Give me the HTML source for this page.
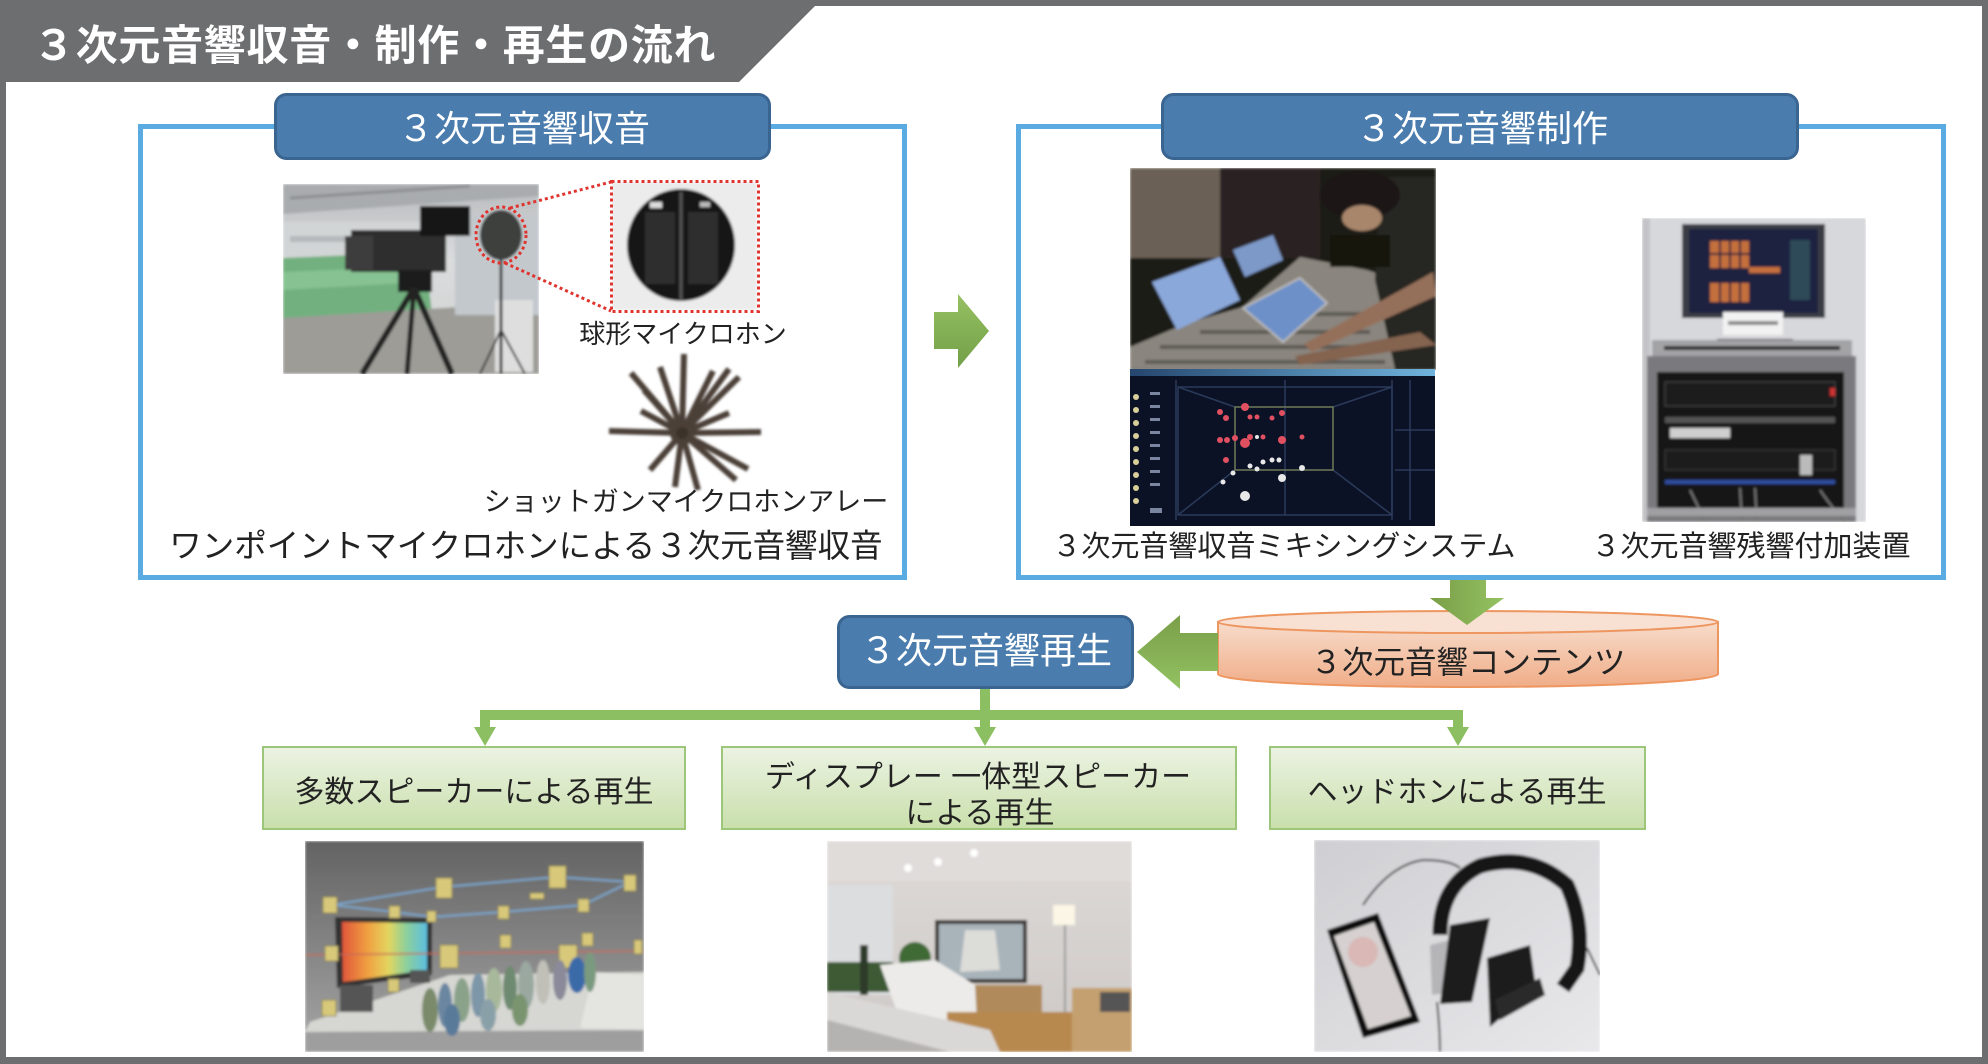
<!DOCTYPE html>
<html><head><meta charset="utf-8">
<style>
html,body{margin:0;padding:0;background:#fff;}
svg{display:block;}
text{font-family:"Liberation Sans","Noto Sans CJK JP",sans-serif;}
</style></head><body>
<svg width="1988" height="1064" viewBox="0 0 1988 1064" xmlns="http://www.w3.org/2000/svg">
<defs>
  <linearGradient id="gArrR" x1="0" y1="0" x2="0" y2="1"><stop offset="0" stop-color="#96c062"/><stop offset="1" stop-color="#72a048"/></linearGradient>
  <linearGradient id="gArrL" x1="0" y1="0" x2="0" y2="1"><stop offset="0" stop-color="#7a9e48"/><stop offset="1" stop-color="#92c262"/></linearGradient>
  <linearGradient id="gArrD" x1="0" y1="0" x2="1" y2="0"><stop offset="0" stop-color="#7a9e48"/><stop offset="1" stop-color="#94c262"/></linearGradient>
  <linearGradient id="gCyl" x1="0" y1="0" x2="0" y2="1"><stop offset="0" stop-color="#f7dccb"/><stop offset="1" stop-color="#f0ad88"/></linearGradient>
  <linearGradient id="gGreen" x1="0" y1="0" x2="0" y2="1"><stop offset="0" stop-color="#ecf3e3"/><stop offset="1" stop-color="#c9dfab"/></linearGradient>
  <linearGradient id="gScreen" x1="0" y1="0" x2="1" y2="0"><stop offset="0" stop-color="#e0553a"/><stop offset="0.3" stop-color="#f0a040"/><stop offset="0.55" stop-color="#e2d660"/><stop offset="0.75" stop-color="#8fd09a"/><stop offset="1" stop-color="#5bbfe0"/></linearGradient>
  <linearGradient id="gRoomA" x1="0" y1="0" x2="0" y2="1"><stop offset="0" stop-color="#636363"/><stop offset="1" stop-color="#a6a6a6"/></linearGradient>
  <linearGradient id="gHead" x1="0" y1="0" x2="1" y2="1"><stop offset="0" stop-color="#cfcfd3"/><stop offset="1" stop-color="#e8e8ea"/></linearGradient>
  <linearGradient id="gRoomB" x1="0" y1="0" x2="0" y2="1"><stop offset="0" stop-color="#dedad8"/><stop offset="1" stop-color="#cdc8c5"/></linearGradient>
  <linearGradient id="gCam" x1="0" y1="0" x2="0" y2="1"><stop offset="0" stop-color="#b8bbbd"/><stop offset="0.4" stop-color="#dadcdd"/><stop offset="1" stop-color="#cfd0cf"/></linearGradient>
  <linearGradient id="gBar" x1="0" y1="0" x2="1" y2="0"><stop offset="0" stop-color="#25466e"/><stop offset="1" stop-color="#6fb3dc"/></linearGradient>
  <clipPath id="c1"><rect x="283" y="184" width="256" height="190"/></clipPath>
  <clipPath id="c2"><rect x="612" y="182" width="145" height="128"/></clipPath>
  <clipPath id="c3"><rect x="1130" y="168" width="306" height="202"/></clipPath>
  <clipPath id="c4"><rect x="1130" y="369" width="305" height="157"/></clipPath>
  <clipPath id="c5"><rect x="1642" y="218" width="224" height="304"/></clipPath>
  <clipPath id="c6"><rect x="305" y="841" width="339" height="211"/></clipPath>
  <clipPath id="c7"><rect x="827" y="841" width="305" height="211"/></clipPath>
  <clipPath id="c8"><rect x="1314" y="840" width="286" height="212"/></clipPath>
  <filter id="blur" x="-5%" y="-5%" width="110%" height="110%"><feGaussianBlur stdDeviation="1.2"/></filter>
</defs>

<!-- frame -->
<rect width="1988" height="1064" fill="#6d6e70"/>
<rect x="6" y="6" width="1976" height="1051" fill="#fff"/>
<polygon points="0,0 821,0 739,82 0,82" fill="#6d6e70"/>
<text x="33" y="60" font-size="42" font-weight="bold" fill="#fff" letter-spacing="0.7">３次元音響収音・制作・再生の流れ</text>

<!-- Box 1 -->
<rect x="140.5" y="126.5" width="764" height="451" fill="none" stroke="#5aabe2" stroke-width="5"/>
<rect x="275.5" y="94.5" width="494" height="64" rx="11" fill="#4a7cae" stroke="#3a6591" stroke-width="3"/>
<text x="524" y="141" font-size="36" fill="#fff" text-anchor="middle">３次元音響収音</text>

<!-- camera photo -->
<g clip-path="url(#c1)" filter="url(#blur)">
  <rect x="283" y="184" width="256" height="190" fill="url(#gCam)"/>
  <polygon points="283,184 539,184 539,196 283,214" fill="#a9acae"/>
  <line x1="290" y1="198" x2="470" y2="186" stroke="#8c8f91" stroke-width="3"/>
  <rect x="283" y="222" width="160" height="36" fill="#d2d5d6"/>
  <rect x="290" y="236" width="120" height="6" fill="#b5b9bb"/>
  <polygon points="283,258 425,252 432,314 283,324" fill="#72b07f"/>
  <polygon points="283,272 425,266 426,282 283,290" fill="#86c292"/>
  <polygon points="283,318 539,302 539,374 283,374" fill="#9d9c97"/>
  <rect x="455" y="215" width="84" height="100" fill="#c2c8cc"/>
  <rect x="495" y="300" width="38" height="72" fill="#dedede"/>
  <rect x="351" y="230" width="95" height="42" fill="#2d2d2d"/>
  <rect x="345" y="236" width="28" height="34" fill="#3c3c3c"/>
  <rect x="420" y="206" width="50" height="30" fill="#191919"/>
  <rect x="398" y="270" width="34" height="22" fill="#1e1e1e"/>
  <line x1="414" y1="288" x2="362" y2="374" stroke="#222" stroke-width="6"/>
  <line x1="414" y1="288" x2="452" y2="374" stroke="#222" stroke-width="6"/>
  <line x1="414" y1="288" x2="407" y2="374" stroke="#222" stroke-width="5"/>
  <line x1="501" y1="258" x2="501" y2="374" stroke="#333" stroke-width="3"/>
  <line x1="501" y1="330" x2="480" y2="374" stroke="#333" stroke-width="2"/>
  <line x1="501" y1="330" x2="525" y2="374" stroke="#333" stroke-width="2"/>
  <ellipse cx="501" cy="235" rx="21" ry="25" fill="#3d403c"/>
</g>
<ellipse cx="501" cy="235" rx="25" ry="28" fill="none" stroke="#e0342f" stroke-width="3" stroke-dasharray="3,3"/>
<line x1="510" y1="208" x2="611" y2="182" stroke="#e0342f" stroke-width="3" stroke-dasharray="3,3"/>
<line x1="505" y1="263" x2="611" y2="311" stroke="#e0342f" stroke-width="3" stroke-dasharray="3,3"/>

<!-- sphere mic box -->
<g clip-path="url(#c2)" filter="url(#blur)">
  <rect x="612" y="182" width="145" height="128" fill="#ececec"/>
  <ellipse cx="681" cy="245" rx="54" ry="56" fill="#151515"/>
  <rect x="645" y="212" width="30" height="72" fill="#2e2e2e"/>
  <rect x="688" y="212" width="30" height="72" fill="#2e2e2e"/>
  <line x1="681" y1="192" x2="681" y2="300" stroke="#555" stroke-width="3"/>
  <rect x="650" y="202" width="12" height="6" fill="#ddd"/>
  <rect x="700" y="202" width="10" height="5" fill="#bbb"/>
</g>
<rect x="611.5" y="181.5" width="147" height="130" fill="none" stroke="#e0342f" stroke-width="3" stroke-dasharray="3,3"/>
<text x="683" y="343" font-size="26" fill="#222" text-anchor="middle">球形マイクロホン</text>

<!-- shotgun array -->
<g stroke="#4b3f39" stroke-width="6" filter="url(#blur)">
  <line x1="682" y1="433" x2="684" y2="354"/>
  <line x1="682" y1="433" x2="631" y2="373"/>
  <line x1="682" y1="433" x2="660" y2="367"/>
  <line x1="682" y1="433" x2="729" y2="369"/>
  <line x1="682" y1="433" x2="739" y2="377"/>
  <line x1="682" y1="433" x2="713" y2="371"/>
  <line x1="682" y1="433" x2="609" y2="431"/>
  <line x1="682" y1="433" x2="761" y2="432"/>
  <line x1="682" y1="433" x2="641" y2="411"/>
  <line x1="682" y1="433" x2="729" y2="413"/>
  <line x1="682" y1="433" x2="675" y2="487"/>
  <line x1="682" y1="433" x2="736" y2="480"/>
  <line x1="682" y1="433" x2="748" y2="469"/>
  <line x1="682" y1="433" x2="698" y2="490"/>
  <line x1="682" y1="433" x2="644" y2="390"/>
  <line x1="682" y1="433" x2="650" y2="470"/>
  <circle cx="682" cy="433" r="9" fill="#3a302b"/>
</g>
<text x="686" y="511" font-size="27" fill="#222" text-anchor="middle">ショットガンマイクロホンアレー</text>
<text x="526" y="557" font-size="32.5" fill="#222" text-anchor="middle">ワンポイントマイクロホンによる３次元音響収音</text>

<!-- right arrow -->
<polygon points="934,312 958,312 958,294 989,331 958,368 958,349 934,349" fill="url(#gArrR)"/>

<!-- Box 2 -->
<rect x="1018.5" y="126.5" width="925" height="451" fill="none" stroke="#5aabe2" stroke-width="5"/>
<rect x="1162.5" y="94.5" width="635" height="64" rx="11" fill="#4a7cae" stroke="#3a6591" stroke-width="3"/>
<text x="1482" y="141" font-size="36" fill="#fff" text-anchor="middle">３次元音響制作</text>

<!-- mixing photo top -->
<g clip-path="url(#c3)" filter="url(#blur)">
  <rect x="1130" y="168" width="306" height="202" fill="#1f1b18"/>
  <rect x="1130" y="168" width="90" height="90" fill="#6a6155"/>
  <rect x="1220" y="168" width="100" height="90" fill="#2b2420"/>
  <polygon points="1130,347 1187,323 1243,307 1300,257 1367,270 1397,280 1397,369 1130,369" fill="#8a857e"/>
  <g fill="#5e5a55">
    <rect x="1160" y="345" width="200" height="4"/><rect x="1200" y="330" width="170" height="4"/><rect x="1250" y="312" width="130" height="4"/><rect x="1145" y="360" width="240" height="4"/>
  </g>
  <polygon points="1152,282 1220,257 1240,300 1177,330" fill="#8ba8da"/>
  <polygon points="1233,250 1273,235 1283,260 1245,277" fill="#7d99c8"/>
  <polygon points="1243,308 1300,278 1327,303 1283,342" fill="#6d90c8" stroke="#bbb" stroke-width="2"/>
  <polygon points="1380,177 1436,177 1436,369 1395,369 1375,280" fill="#262520"/>
  <ellipse cx="1360" cy="195" rx="40" ry="24" fill="#1a1614"/>
  <ellipse cx="1362" cy="218" rx="20" ry="13" fill="#a8866c"/>
  <polygon points="1433,272 1436,296 1312,352 1304,344" fill="#94705a"/>
  <polygon points="1420,332 1436,345 1300,365 1295,356" fill="#84644f"/>
  <rect x="1330" y="235" width="60" height="32" fill="#141210"/>
</g>
<!-- mixing screenshot -->
<g clip-path="url(#c4)">
  <rect x="1130" y="369" width="305" height="157" fill="#0c1226"/>
  <rect x="1130" y="369" width="305" height="7" fill="url(#gBar)"/>
  <g stroke="#2a3a5a" stroke-width="1.5" fill="none">
    <line x1="1176" y1="380" x2="1176" y2="520"/><line x1="1392" y1="380" x2="1392" y2="520"/><line x1="1285" y1="380" x2="1285" y2="515"/>
    <rect x="1178" y="387" width="214" height="128"/>
    <line x1="1178" y1="387" x2="1235" y2="407"/><line x1="1392" y1="387" x2="1333" y2="407"/>
    <line x1="1178" y1="515" x2="1235" y2="470"/><line x1="1392" y1="515" x2="1333" y2="470"/>
    <line x1="1410" y1="380" x2="1410" y2="520"/><line x1="1395" y1="430" x2="1435" y2="430"/><line x1="1395" y1="470" x2="1435" y2="470"/>
  </g>
  <rect x="1235" y="407" width="98" height="63" fill="none" stroke="#6e7a56" stroke-width="1.5"/>
  <g fill="#d8cf9a"><circle cx="1136" cy="397" r="3"/><circle cx="1136" cy="410" r="3"/><circle cx="1136" cy="423" r="3"/><circle cx="1136" cy="436" r="3"/><circle cx="1136" cy="449" r="3"/><circle cx="1136" cy="462" r="3"/><circle cx="1136" cy="475" r="3"/><circle cx="1136" cy="488" r="3"/><circle cx="1136" cy="501" r="3"/></g>
  <g fill="#7a86a0"><rect x="1150" y="392" width="10" height="3"/><rect x="1150" y="405" width="10" height="3"/><rect x="1150" y="418" width="10" height="3"/><rect x="1150" y="431" width="10" height="3"/><rect x="1150" y="444" width="10" height="3"/><rect x="1150" y="457" width="10" height="3"/><rect x="1150" y="470" width="10" height="3"/><rect x="1150" y="483" width="10" height="3"/><rect x="1150" y="508" width="12" height="5"/></g>
  <g fill="#e05060"><circle cx="1245" cy="407" r="4"/><circle cx="1220" cy="412" r="3"/><circle cx="1226" cy="418" r="3"/><circle cx="1250" cy="417" r="2.5"/><circle cx="1257" cy="417" r="2.5"/><circle cx="1272" cy="418" r="2.5"/><circle cx="1282" cy="413" r="3"/><circle cx="1220" cy="440" r="3"/><circle cx="1227" cy="440" r="3"/><circle cx="1235" cy="438" r="3"/><circle cx="1245" cy="443" r="5"/><circle cx="1250" cy="437" r="3"/><circle cx="1263" cy="437" r="2.5"/><circle cx="1282" cy="440" r="4"/><circle cx="1302" cy="437" r="2.5"/><circle cx="1226" cy="460" r="3"/></g>
  <g fill="#e8e8e8"><circle cx="1257" cy="437" r="2"/><circle cx="1263" cy="462" r="2.5"/><circle cx="1272" cy="460" r="2.5"/><circle cx="1279" cy="460" r="2.5"/><circle cx="1250" cy="466" r="2.5"/><circle cx="1257" cy="469" r="2.5"/><circle cx="1302" cy="468" r="3"/><circle cx="1282" cy="478" r="4"/><circle cx="1233" cy="473" r="2.5"/><circle cx="1223" cy="482" r="2.5"/><circle cx="1245" cy="496" r="5"/></g>
</g>

<!-- reverb device photo -->
<g clip-path="url(#c5)" filter="url(#blur)">
  <rect x="1642" y="218" width="224" height="304" fill="#d7d8dc"/>
  <rect x="1642" y="218" width="8" height="304" fill="#c4c4c8"/>
  <rect x="1682" y="224" width="143" height="94" fill="#3a3d44"/>
  <rect x="1689" y="229" width="129" height="84" fill="#1a2340"/>
  <g fill="#c4703c"><rect x="1710" y="241" width="39" height="27"/><rect x="1710" y="283" width="39" height="19"/><rect x="1749" y="267" width="31" height="6"/></g>
  <g fill="#1a2340"><rect x="1719" y="241" width="2" height="27"/><rect x="1729" y="241" width="2" height="27"/><rect x="1739" y="241" width="2" height="27"/><rect x="1710" y="253" width="39" height="2"/><rect x="1719" y="283" width="2" height="19"/><rect x="1729" y="283" width="2" height="19"/><rect x="1739" y="283" width="2" height="19"/></g>
  <rect x="1790" y="240" width="20" height="60" fill="#2f4a58"/>
  <rect x="1723" y="312" width="60" height="23" fill="#f2f2f2"/>
  <rect x="1728" y="321" width="50" height="4" fill="#888"/>
  <rect x="1717" y="339" width="76" height="7" fill="#222"/>
  <rect x="1652" y="340" width="200" height="18" fill="#a3a3a6"/>
  <rect x="1664" y="346" width="176" height="4" fill="#2a2a2a"/>
  <rect x="1647" y="356" width="209" height="166" fill="#7a7a7e"/>
  <rect x="1657" y="372" width="187" height="138" fill="#131313"/>
  <rect x="1665" y="382" width="170" height="24" fill="#1f1f1f" stroke="#444"/>
  <rect x="1830" y="388" width="5" height="8" fill="#d03030"/>
  <rect x="1665" y="417" width="170" height="6" fill="#555"/>
  <rect x="1670" y="428" width="60" height="10" fill="#cfcfcf"/>
  <rect x="1665" y="450" width="170" height="20" fill="#1c1c1c" stroke="#3a3a3a"/>
  <rect x="1800" y="455" width="12" height="20" fill="#bbb"/>
  <rect x="1665" y="480" width="170" height="4" fill="#3050a0"/>
  <path d="M1690 490 Q1700 510 1705 522 M1740 488 L1742 522 M1755 488 L1757 522 M1820 490 Q1830 505 1845 522" stroke="#777" stroke-width="2" fill="none"/>
  <rect x="1647" y="508" width="209" height="8" fill="#a0a0a3"/>
</g>

<text x="1284" y="556" font-size="29" fill="#222" text-anchor="middle">３次元音響収音ミキシングシステム</text>
<text x="1751" y="556" font-size="29" fill="#222" text-anchor="middle">３次元音響残響付加装置</text>

<!-- down arrow -->
<polygon points="1450,580 1486,580 1486,598 1504,598 1467,625 1430,598 1450,598" fill="url(#gArrD)"/>

<!-- cylinder -->
<path d="M1218 622 L1218 674 A250 13 0 0 0 1718 674 L1718 622 Z" fill="url(#gCyl)" stroke="#ee9660" stroke-width="2"/>
<ellipse cx="1468" cy="622" rx="250" ry="11" fill="#f8e0d2" stroke="#ee9660" stroke-width="2"/>
<polygon points="1450,598 1486,598 1486,598 1504,598 1467,625 1430,598" fill="url(#gArrD)"/>
<text x="1468" y="673" font-size="31.5" fill="#222" text-anchor="middle">３次元音響コンテンツ</text>

<!-- left arrow -->
<polygon points="1218,633 1180,633 1180,615 1137,652 1180,689 1180,671 1218,671" fill="url(#gArrL)"/>

<!-- Tab 3 -->
<rect x="838.5" y="616.5" width="294" height="71" rx="11" fill="#4a7cae" stroke="#3a6591" stroke-width="3"/>
<text x="986" y="663" font-size="36" fill="#fff" text-anchor="middle">３次元音響再生</text>

<!-- connectors -->
<g fill="#8bbf62">
  <rect x="980" y="689" width="10" height="22"/>
  <rect x="480" y="710" width="983" height="10"/>
  <rect x="480" y="718" width="10" height="10"/>
  <rect x="980" y="718" width="10" height="10"/>
  <rect x="1453" y="718" width="10" height="10"/>
  <polygon points="474,727 496,727 485,746"/>
  <polygon points="974,727 996,727 985,746"/>
  <polygon points="1447,727 1469,727 1458,746"/>
</g>

<!-- green boxes -->
<rect x="263" y="747" width="422" height="82" fill="url(#gGreen)" stroke="#9cc67a" stroke-width="2"/>
<rect x="722" y="747" width="514" height="82" fill="url(#gGreen)" stroke="#9cc67a" stroke-width="2"/>
<rect x="1270" y="747" width="375" height="82" fill="url(#gGreen)" stroke="#9cc67a" stroke-width="2"/>
<text x="474" y="802" font-size="30" fill="#222" text-anchor="middle">多数スピーカーによる再生</text>
<text x="978" y="787" font-size="30" fill="#222" text-anchor="middle">ディスプレー 一体型スピーカー</text>
<text x="980" y="823" font-size="30" fill="#222" text-anchor="middle">による再生</text>
<text x="1457" y="802" font-size="30" fill="#222" text-anchor="middle">ヘッドホンによる再生</text>

<!-- photo A: multi speaker room -->
<g clip-path="url(#c6)" filter="url(#blur)">
  <rect x="305" y="841" width="339" height="211" fill="url(#gRoomA)"/>
  <polygon points="310,1022 450,975 644,972 644,1030 305,1032" fill="#d6d6d2"/>
  <polygon points="593,972 643,975 643,1030 580,1028" fill="#e4e4e0"/>
  <rect x="305" y="1032" width="339" height="20" fill="#9e9e9e"/>
  <polygon points="335,917 432,918 432,975 337,988" fill="#333"/>
  <polygon points="342,922 427,923 427,970 343,982" fill="url(#gScreen)"/>
  <line x1="305" y1="955" x2="644" y2="951" stroke="#c86a58" stroke-width="2" opacity="0.7"/>
  <polyline points="332,905 443,887 557,877 630,882 583,905 503,912 432,917 395,912 332,905" fill="none" stroke="#7aa6cc" stroke-width="2"/>
  <g fill="#d8c97a" stroke="#8e8556" stroke-width="1">
    <rect x="323" y="897" width="14" height="16"/><rect x="436" y="878" width="16" height="20"/><rect x="549" y="866" width="17" height="22"/><rect x="624" y="875" width="12" height="16"/>
    <rect x="389" y="906" width="11" height="12"/><rect x="427" y="911" width="9" height="11"/><rect x="498" y="906" width="11" height="13"/><rect x="578" y="899" width="11" height="13"/>
    <rect x="325" y="946" width="13" height="15"/><rect x="440" y="945" width="18" height="23"/><rect x="500" y="935" width="11" height="13"/><rect x="582" y="933" width="11" height="13"/>
    <rect x="559" y="945" width="18" height="23"/><rect x="634" y="940" width="8" height="14"/><rect x="322" y="1000" width="14" height="16"/><rect x="388" y="979" width="11" height="13"/><rect x="530" y="893" width="14" height="6"/>
  </g>
  <rect x="340" y="985" width="33" height="27" fill="#555"/>
  <rect x="410" y="970" width="20" height="13" fill="#555"/>
  <g>
    <ellipse cx="430" cy="1010" rx="8" ry="22" fill="#7a8a6a"/><ellipse cx="445" cy="1005" rx="7" ry="22" fill="#6a86a0"/>
    <ellipse cx="462" cy="1000" rx="8" ry="22" fill="#8aa28a"/><ellipse cx="478" cy="995" rx="7" ry="22" fill="#7d96a8"/>
    <ellipse cx="494" cy="990" rx="8" ry="22" fill="#a8b89a"/><ellipse cx="510" cy="988" rx="7" ry="22" fill="#6e8a70"/>
    <ellipse cx="526" cy="985" rx="8" ry="24" fill="#9aa8a0"/><ellipse cx="543" cy="982" rx="7" ry="22" fill="#c0c0b8"/>
    <ellipse cx="560" cy="980" rx="7" ry="20" fill="#8a8a9a"/><ellipse cx="577" cy="975" rx="9" ry="18" fill="#3a6aa8"/>
    <ellipse cx="590" cy="972" rx="6" ry="20" fill="#7a9a80"/><ellipse cx="452" cy="1020" rx="8" ry="16" fill="#5a7a9a"/>
    <ellipse cx="488" cy="1015" rx="8" ry="16" fill="#8aa0a8"/><ellipse cx="520" cy="1010" rx="8" ry="16" fill="#7a9470"/>
  </g>
</g>

<!-- photo B: living room -->
<g clip-path="url(#c7)" filter="url(#blur)">
  <rect x="827" y="841" width="305" height="211" fill="url(#gRoomB)"/>
  <rect x="827" y="841" width="305" height="40" fill="#e0dcda"/>
  <circle cx="908" cy="868" r="4" fill="#fff"/><circle cx="938" cy="862" r="4" fill="#fff"/><circle cx="974" cy="853" r="4" fill="#fff"/>
  <rect x="827" y="885" width="66" height="110" fill="#dcdddf"/>
  <rect x="827" y="962" width="66" height="30" fill="#3e5a35"/>
  <rect x="860" y="945" width="8" height="50" fill="#2e3a2a"/>
  <rect x="935" y="920" width="92" height="63" fill="#3b3531"/>
  <rect x="939" y="924" width="84" height="55" fill="#a8b3ba"/>
  <polygon points="965,930 995,930 1000,970 960,972" fill="#e8e6e0" opacity="0.8"/>
  <ellipse cx="915" cy="958" rx="16" ry="16" fill="#3f6b35"/>
  <rect x="1053" y="905" width="22" height="20" fill="#fbf6e6"/>
  <rect x="1064" y="925" width="2" height="92" fill="#999"/>
  <rect x="960" y="985" width="82" height="30" fill="#b08a5a"/>
  <polygon points="827,995 1000,1045 1000,1052 827,1052" fill="#b3b1af"/>
  <polygon points="880,965 935,960 975,985 977,1022 900,1020" fill="#ecebe9"/>
  <rect x="947" y="1012" width="126" height="40" fill="#b8894f"/>
  <rect x="1072" y="988" width="60" height="64" fill="#c4a070"/>
  <rect x="1100" y="992" width="30" height="20" fill="#555"/>
  <polygon points="827,992 990,1030 1000,1052 827,1052" fill="#dad8d6"/>
  <polygon points="827,1020 950,1052 827,1052" fill="#b5b3b1"/>
</g>

<!-- photo C: headphones -->
<g clip-path="url(#c8)" filter="url(#blur)">
  <rect x="1314" y="840" width="286" height="212" fill="url(#gHead)"/>
  <path d="M1363 905 Q1390 865 1423 860 Q1450 860 1460 868" stroke="#444" stroke-width="2" fill="none"/>
  <path d="M1437 1002 Q1440 1030 1440 1052" stroke="#444" stroke-width="2" fill="none"/>
  <path d="M1587 948 L1600 975" stroke="#444" stroke-width="2" fill="none"/>
  <polygon points="1327,930 1378,913 1420,1022 1363,1038" fill="#111"/>
  <polygon points="1334,936 1374,922 1411,1016 1368,1029" fill="#d6d0d0"/>
  <circle cx="1363" cy="952" r="15" fill="#d9b8b6"/>
  <path d="M1440 935 Q1440 885 1480 866 Q1530 852 1567 885 Q1585 925 1577 968 L1563 988" stroke="#151515" stroke-width="15" fill="none"/>
  <polygon points="1430,945 1450,940 1452,992 1432,995" fill="#b5b5b8"/>
  <polygon points="1450,925 1490,918 1472,1002 1440,1004" fill="#1a1a1a"/>
  <polygon points="1487,958 1530,945 1536,988 1490,1027" fill="#1c1c1c"/>
  <polygon points="1495,1000 1540,978 1545,995 1500,1020" fill="#2a2a2a"/>
</g>
</svg>
</body></html>
